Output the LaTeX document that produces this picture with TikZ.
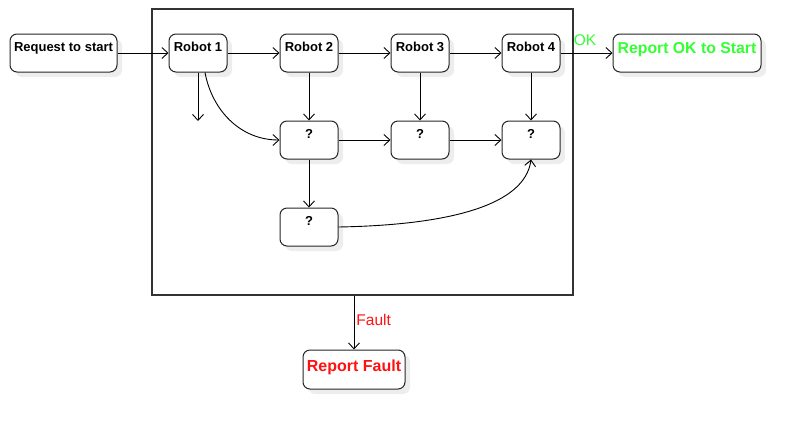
\documentclass[tikz,border=0pt]{standalone}
\usepackage{fontspec}
\setmainfont{Liberation Sans}
\usetikzlibrary{arrows.meta,shadows,calc}
\definecolor{okgreen}{RGB}{51,255,51}
\definecolor{faultred}{RGB}{255,17,17}
\tikzset{
  box/.style={draw=black!85, line width=1pt, rounded corners=7pt, fill=white,
    minimum width=58pt, minimum height=38pt, inner sep=0pt, inner xsep=3pt,
    text height=17pt, text depth=21pt, font=\bfseries\fontsize{13}{15}\selectfont,
    drop shadow={shadow xshift=5pt, shadow yshift=-5pt, fill=black!7, opacity=1}},
  arr/.style={draw=black, line width=0.9pt, -{Straight Barb[length=6pt,width=11pt,line width=0.9pt]}},
  frame/.style={draw=black!80, line width=1.1pt, minimum width=421pt, minimum height=286pt, inner sep=0pt},
  elabel/.style={font=\fontsize{15.5}{17}\selectfont, inner sep=1pt}
}
\begin{document}
\begin{tikzpicture}[x=1pt,y=-1pt]
\useasboundingbox (0,0) rectangle (800,429);
\node[frame] (big) at (362.5,152) {};
\node[box, minimum width=107pt] (req) at (63.5,53) {Request to start};
\node[box] (r1) at (198,53) {Robot 1};
\node[box] (r2) at (309,53) {Robot 2};
\node[box] (r3) at (420,53) {Robot 3};
\node[box] (r4) at (531,53) {Robot 4};
\node[box, minimum width=148pt, text height=19pt, text depth=19pt, text=okgreen,
  font=\bfseries\fontsize{15.8}{18}\selectfont] (ok) at (687,53) {Report OK to Start};
\node[box] (q21) at (309,140) {?};
\node[box] (q22) at (420,140) {?};
\node[box] (q23) at (531,140) {?};
\node[box] (q31) at (309,227) {?};
\node[box, minimum width=102pt, minimum height=39pt, text height=21pt, text depth=18pt, text=faultred,
  font=\bfseries\fontsize{16}{18}\selectfont] (fault) at (354,369.5) {Report Fault};
\coordinate (r1end) at (198,121);
\draw[arr] (req) -- (r1);
\draw[arr] (r1) -- (r2);
\draw[arr] (r2) -- (r3);
\draw[arr] (r3) -- (r4);
\draw[arr] (r4) -- node[elabel, text=okgreen, above=6pt, pos=0.47] (oklbl) {OK} (ok);
\draw[arr] (r1.south) -- (r1end);
\draw[arr] ([xshift=7pt]r1.south) .. controls (212,110) and (240,140) .. (q21.west);
\draw[arr] (r2) -- (q21);
\draw[arr] (r3) -- (q22);
\draw[arr] (r4) -- (q23);
\draw[arr] (q21) -- (q22);
\draw[arr] (q22) -- (q23);
\draw[arr] (q21) -- (q31);
\draw[arr] (q31.east) .. controls (450,225) and (525,205) .. (q23.south);
\draw[arr] (big.south -| fault.north) -- node[elabel, text=faultred, right=1pt, pos=0.45] (flbl) {Fault} (fault.north);
\end{tikzpicture}
\end{document}
